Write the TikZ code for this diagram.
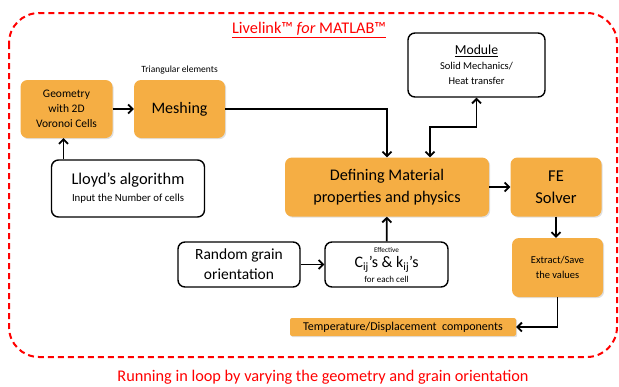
\documentclass[tikz,border=0pt]{standalone}
\usepackage{fontspec}
\setmainfont{Carlito}
\usepackage{xcolor}
\usepackage{tikz}
\usetikzlibrary{arrows.meta,calc,shadows,positioning}
\definecolor{boxorange}{RGB}{245,174,68}

\begin{document}
\begin{tikzpicture}[x=1pt,y=-1pt,
box/.style={rounded corners=7pt, align=center, inner sep=1pt},
orangebox/.style={box, fill=boxorange, drop shadow={opacity=0.25, shadow xshift=1.2pt, shadow yshift=-1.2pt}},
whitebox/.style={box, draw=black, line width=1.4pt, fill=white},
link/.style={line width=1.8pt, -{Straight Barb[length=4.5pt,width=9pt]}},
looptext/.style={text=red, font=\fontsize{16.3}{19}\selectfont}]

    \useasboundingbox (0,0) rectangle (619,386);

    % outer loop frame
    \draw[red, line width=2pt, dash pattern=on 6pt off 4pt, rounded corners=30pt] (9,13) rectangle (617,357);
    \node[looptext] (title) at (309,30) {\underline{Livelink™ \textit{for} MATLAB™}};
    \node[looptext] (loop) at (323,377) {Running in loop by varying the geometry and grain orientation};

    % boxes
    \node[orangebox, minimum width=92pt, minimum height=58pt, font=\fontsize{11.5}{15}\selectfont] (geo) at (66.5,109) {Geometry\\with 2D\\Voronoi Cells};
    \node[orangebox, minimum width=91pt, minimum height=58pt, font=\fontsize{16}{20}\selectfont] (mesh) at (179.5,109) {Meshing};
    \node[font=\fontsize{9.5}{11}\selectfont, anchor=south] (tri) at ([yshift=2pt]mesh.north) {Triangular elements};
    \node[whitebox, minimum width=137pt, minimum height=64pt, font=\fontsize{10.5}{15}\selectfont] (module) at (476.5,65)
        {{\fontsize{13.7}{15}\selectfont\underline{Module}}\\Solid Mechanics/\\Heat transfer};
    \node[whitebox, minimum width=153pt, minimum height=57pt, font=\fontsize{16.4}{17}\selectfont] (lloyd) at (128,188.5)
        {Lloyd’s algorithm\\{\fontsize{10.8}{12}\selectfont Input the Number of cells}};
    \node[orangebox, minimum width=204pt, minimum height=59pt, font=\fontsize{16.2}{22}\selectfont] (defmat) at (387,187) {Defining Material\\properties and physics};
    \node[orangebox, minimum width=91pt, minimum height=59pt, font=\fontsize{16.5}{22}\selectfont] (fe) at (556,187) {FE\\Solver};
    \node[whitebox, minimum width=122pt, minimum height=45pt, font=\fontsize{15.5}{20}\selectfont] (random) at (239,264.5) {Random grain\\orientation};
    \node[whitebox, minimum width=123pt, minimum height=45pt, font=\fontsize{16}{18}\selectfont] (cij) at (386.5,264.5)
        {C\textsubscript{ij}’s \& k\textsubscript{ij}’s};
    \node[font=\fontsize{7.2}{8}\selectfont] (eff) at ([yshift=14pt]cij.center) {Effective};
    \node[font=\fontsize{9}{10}\selectfont] (each) at ([yshift=-15pt]cij.center) {for each cell};
    \node[orangebox, minimum width=91pt, minimum height=59pt, font=\fontsize{10.5}{15}\selectfont] (extract) at (557.5,267.5) {Extract/Save\\the values};
    \node[orangebox, rounded corners=2pt, minimum width=226pt, minimum height=18pt, inner sep=0pt, font=\fontsize{12}{13}\selectfont] (temp) at (403,327) {Temperature/Displacement\ \ components};

    % connectors
    \coordinate (bend1) at ($(defmat.north)+(43,-30)$);
    \draw[link] (geo) -- (mesh);
    \draw[link] ([xshift=-3pt]geo.south |- lloyd.north) -- ([xshift=-3pt]geo.south);
    \draw[link] (mesh.east) -| (defmat.north);
    \draw[link, {Straight Barb[length=4.5pt,width=9pt]}-{Straight Barb[length=4.5pt,width=9pt]}]
        ([xshift=43pt]defmat.north) |- (bend1 -| module.south) -- (module.south);
    \draw[link] (defmat) -- (fe);
    \draw[link] (random) -- (cij);
    \draw[link] (cij) -- (defmat);
    \draw[link] (fe.south) -- (fe.south |- extract.north);
    \draw[link] (extract.south) |- (temp.east);
    %
\end{tikzpicture}
\end{document}
